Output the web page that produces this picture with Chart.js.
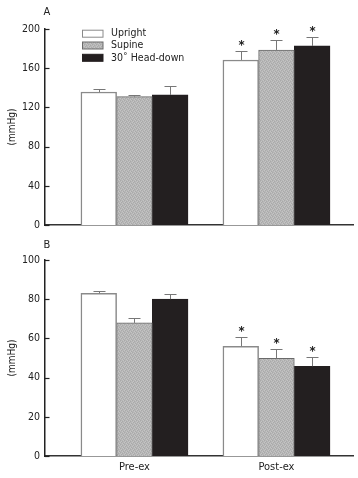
<!DOCTYPE html>
<html><head><meta charset="utf-8">
<script src="https://cdn.jsdelivr.net/npm/chart.js@4"></script>
<style>html,body{margin:0;padding:0;background:#fff;width:358px;height:478px;overflow:hidden}
canvas{position:absolute;left:0}</style></head>
<body>
<canvas id="cA" width="358" height="240" style="top:0"></canvas>
<canvas id="cB" width="358" height="238" style="top:240px"></canvas>
<script>
// ---- data ----
const categories = ['Pre-ex', 'Post-ex'];
const seriesNames = ['Upright', 'Supine', '30\u02da Head-down'];
// Panel A (mmHg)
const aUpright = [135.7, 168.4];
const aUprightErr = [3.1, 8.8];
const aSupine = [131.0, 178.6];
const aSupineErr = [2.0, 9.9];
const aHeadDown = [132.7, 182.7];
const aHeadDownErr = [8.8, 9.3];
const aSignif = [false, true];
const aTicks = [0, 40, 80, 120, 160, 200];
// Panel B (mmHg)
const bUpright = [83.0, 56.0];
const bUprightErr = [1.0, 4.6];
const bSupine = [67.9, 49.8];
const bSupineErr = [2.7, 4.8];
const bHeadDown = [80.0, 45.8];
const bHeadDownErr = [2.8, 4.6];
const bSignif = [false, true];
const bTicks = [0, 20, 40, 60, 80, 100];

const FONT = "'DejaVu Sans Condensed','Liberation Sans Narrow','DejaVu Sans',sans-serif";
Chart.defaults.font.family = FONT;
Chart.defaults.color = '#222';

// stipple pattern for Supine
function makePattern(){
  const c = document.createElement('canvas'); c.width = 4; c.height = 4;
  const g = c.getContext('2d');
  g.fillStyle = '#b6b6b6'; g.fillRect(0,0,4,4);
  g.fillStyle = '#a9a9a9';
  [[0,0],[2,1],[1,2],[3,3]].forEach(p=>g.fillRect(p[0],p[1],1,1));
  g.fillStyle = '#c4c4c4';
  [[2,3],[0,2],[3,0],[1,1]].forEach(p=>g.fillRect(p[0],p[1],1,1));
  return g.createPattern(c,'repeat');
}
const supinePattern = makePattern();
const fills = ['#ffffff', supinePattern, '#231f20'];
const borders = ['#8a8a8a', '#6a6a6a', '#231f20'];

function toPts(arr){ return arr.map((v,i)=>({x:i+1, y:v})); }

function annotPlugin(opts){
  return {
    id: 'annot',
    afterDatasetsDraw(chart){
      const ctx = chart.ctx, ys = chart.scales.y, area = chart.chartArea;
      ctx.save();
      // inward y tick marks
      ctx.strokeStyle = '#222'; ctx.lineWidth = 1.2;
      opts.ticks.forEach(t=>{
        const y = Math.round(ys.getPixelForValue(t)) + 0.5;
        ctx.beginPath(); ctx.moveTo(area.left, y); ctx.lineTo(area.left + 4.5, y); ctx.stroke();
      });
      // error bars and asterisks
      chart.data.datasets.forEach((ds, di)=>{
        const meta = chart.getDatasetMeta(di);
        meta.data.forEach((bar, i)=>{
          const v = opts.values[di][i], e = opts.errs[di][i];
          const x = Math.round(bar.x) + 0.5;
          const yTop = ys.getPixelForValue(v);
          const yErr = Math.round(ys.getPixelForValue(v + e)) + 0.5;
          ctx.strokeStyle = '#777'; ctx.lineWidth = 1;
          ctx.beginPath(); ctx.moveTo(x, yTop); ctx.lineTo(x, yErr);
          ctx.moveTo(x - 6, yErr); ctx.lineTo(x + 6, yErr); ctx.stroke();
          if (opts.signif[i]) {
            ctx.fillStyle = '#222';
            ctx.font = 'bold 13px ' + FONT;
            ctx.textAlign = 'center'; ctx.textBaseline = 'middle';
            ctx.fillText('*', x, yErr - 6);
          }
        });
      });
      // panel letter
      ctx.fillStyle = '#222'; ctx.font = '11px ' + FONT;
      ctx.textAlign = 'center'; ctx.textBaseline = 'middle';
      ctx.fillText(opts.letter, 47, opts.letterY);
      // legend
      if (opts.legend) {
        const rowsY = [33.7, 45.5, 57.8];
        seriesNames.forEach((n, k)=>{
          const y = rowsY[k];
          ctx.fillStyle = fills[k];
          ctx.fillRect(82, y - 3.5, 21, 7);
          ctx.strokeStyle = borders[k]; ctx.lineWidth = 1;
          ctx.strokeRect(82.5, y - 3.5, 20.5, 7);
          ctx.fillStyle = '#222'; ctx.font = '10.5px ' + FONT;
          ctx.textAlign = 'left'; ctx.textBaseline = 'middle';
          ctx.fillText(n, 111, y);
        });
      }
      ctx.restore();
    }
  };
}

function makeChart(id, vals, errs, signif, ticks, yMax, step, opts){
  const datasets = vals.map((arr, k)=>({
    label: seriesNames[k], data: toPts(arr),
    backgroundColor: fills[k], borderColor: borders[k],
    borderWidth: k === 0 ? 1.5 : 1, borderSkipped: 'bottom',
    barThickness: 35.7
  }));
  return new Chart(document.getElementById(id), {
    type: 'bar',
    data: { datasets },
    options: {
      responsive: false, animation: false, devicePixelRatio: 1,
      layout: { padding: { top: opts.padTop, right: 5, left: 0, bottom: 0 } },
      plugins: { legend: { display: false }, tooltip: { enabled: false } },
      scales: {
        x: {
          type: 'linear', min: 0.37, max: 2.539, offset: false,
          grid: { display: false, drawTicks: false },
          border: { display: true, color: '#333', width: 1.5 },
          afterBuildTicks: s => { s.ticks = categories.map((c, i)=>({ value: i + 1 })); },
          afterFit: s => { s.height = opts.xHeight; },
          ticks: { display: opts.showX, padding: 5, maxRotation: 0, autoSkip: false,
                   font: { size: 11 }, color: '#222',
                   callback: v => categories[v - 1] || '' }
        },
        y: {
          min: 0, max: yMax,
          grid: { display: false, drawTicks: false },
          border: { display: true, color: '#222', width: 1.5 },
          afterBuildTicks: s => { s.ticks = ticks.map(t=>({ value: t })); },
          afterFit: s => { s.width = 45; },
          ticks: { padding: 5, font: { size: 10.5 }, color: '#222' },
          title: { display: true, text: '(mmHg)', font: { size: 10 }, color: '#222', padding: { top: 6, bottom: 0 } }
        }
      }
    },
    plugins: [annotPlugin({ ticks, values: vals, errs, signif, letter: opts.letter, letterY: opts.letterY, legend: opts.legend })]
  });
}

makeChart('cA', [aUpright, aSupine, aHeadDown], [aUprightErr, aSupineErr, aHeadDownErr], aSignif, aTicks, 200, 40,
  { padTop: 29, xHeight: 15, showX: false, letter: 'A', letterY: 12, legend: true });
makeChart('cB', [bUpright, bSupine, bHeadDown], [bUprightErr, bSupineErr, bHeadDownErr], bSignif, bTicks, 100, 20,
  { padTop: 20, xHeight: 22, showX: true, letter: 'B', letterY: 5, legend: false });
</script>
</body></html>
